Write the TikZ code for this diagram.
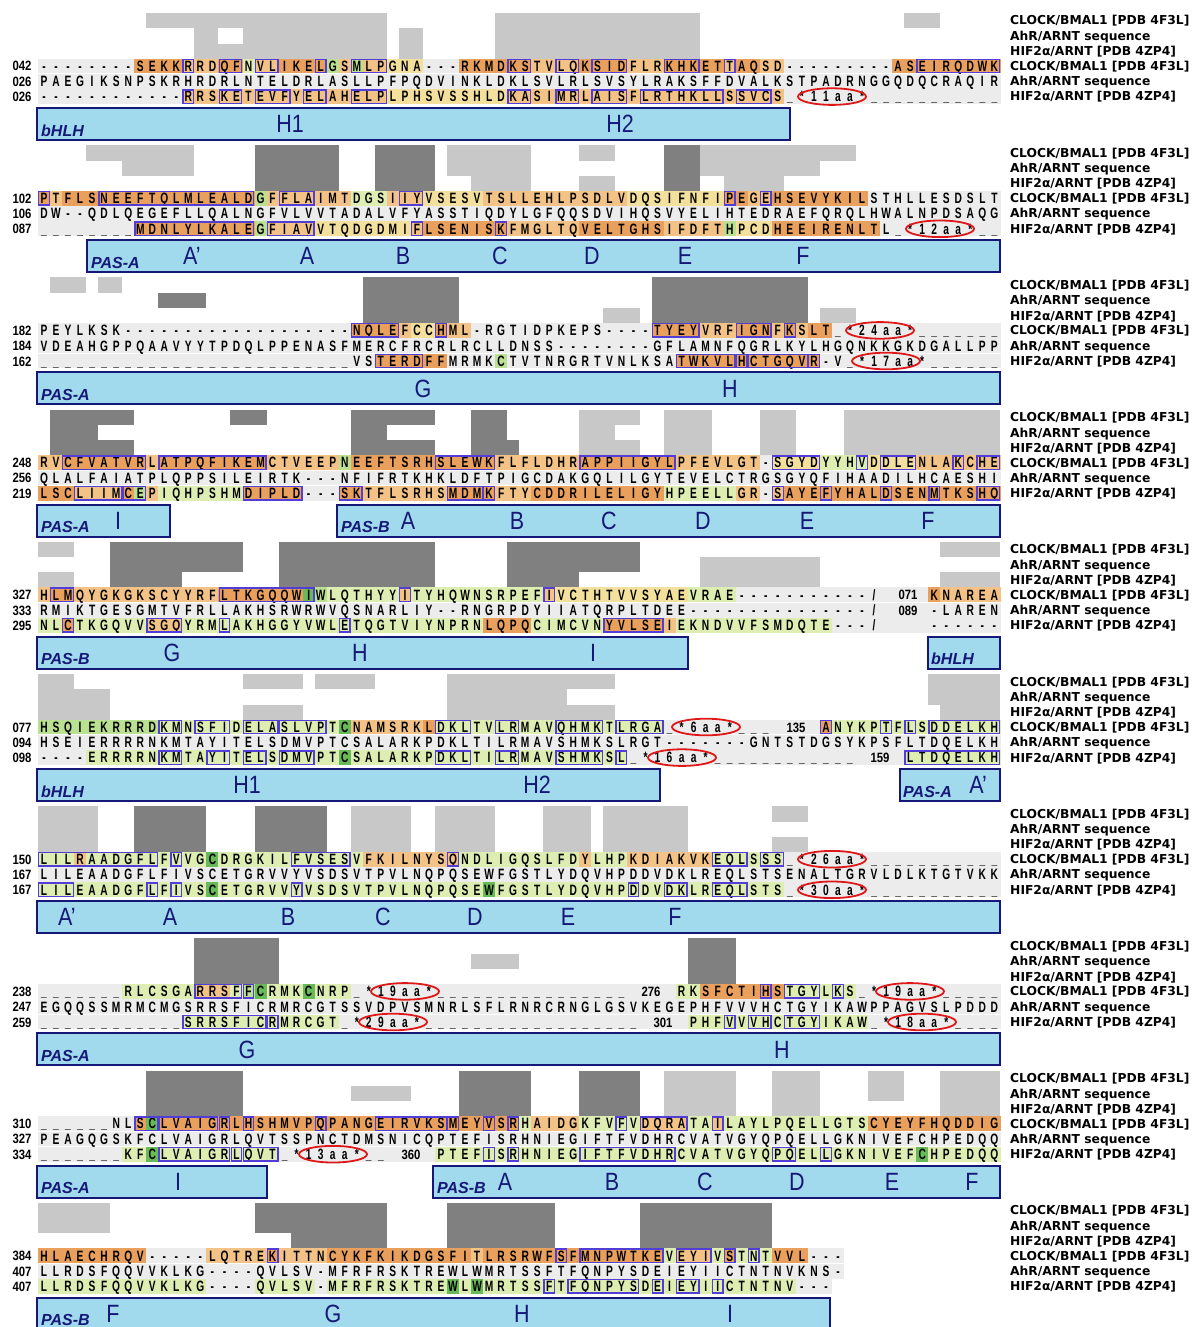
\documentclass[tikz,border=0pt]{standalone}
\usepackage{fontspec}
\usepackage{tikz}
\setmainfont{Liberation Sans}
\newfontfamily\seqfont{Liberation Sans}[FakeStretch=0.68]
\newfontfamily\numfont{Liberation Sans}[FakeStretch=0.84]
\newfontfamily\helixfont{Liberation Sans}[FakeStretch=0.86]
\newfontfamily\labfont{DejaVu Sans}

\definecolor{res0}{RGB}{236,236,236}
\definecolor{res1}{RGB}{233,160,92}
\definecolor{res2}{RGB}{242,194,134}
\definecolor{res3}{RGB}{242,224,156}
\definecolor{res4}{RGB}{222,238,178}
\definecolor{res5}{RGB}{186,224,146}
\definecolor{res6}{RGB}{104,186,88}
\definecolor{boxBlue}{RGB}{82,62,214}
\definecolor{barLight}{RGB}{200,200,200}
\definecolor{barDark}{RGB}{128,128,128}
\definecolor{domFill}{RGB}{160,218,236}
\definecolor{domLine}{RGB}{22,24,120}
\definecolor{ovalRed}{RGB}{222,24,24}

\tikzset{
  resid/.style={font=\seqfont\bfseries\fontsize{15}{15}\selectfont, anchor=base, inner sep=0pt},
  seqnum/.style={font=\numfont\bfseries\fontsize{13.5}{13.5}\selectfont, anchor=base, inner sep=0pt},
  resbox/.style={draw=boxBlue, line width=1.3pt},
  barl/.style={fill=barLight},
  bard/.style={fill=barDark},
  dombox/.style={draw=domLine, fill=domFill, line width=2pt},
  domtag/.style={font=\bfseries\itshape\fontsize{16}{16}\selectfont, text=domLine, anchor=base west, inner sep=0pt},
  helix/.style={font=\helixfont\fontsize{25}{25}\selectfont, text=domLine, inner sep=0pt},
  oval/.style={draw=ovalRed, line width=1.8pt},
  rowlab/.style={font=\labfont\bfseries\fontsize{12.3}{12.3}\selectfont, anchor=base west, inner sep=0pt}
}

% one alignment row: |n colour switch, [ ] blue box, . gap, , blank
\makeatletter
\newcount\sq@col
\def\sq@end{\sq@end}
\def\sq@loop#1{%
  \ifx#1\sq@end\let\sq@next\relax
  \else\ifx#1|\let\sq@next\sq@setc
  \else\ifx#1[\let\sq@next\sq@open
  \else\ifx#1]\let\sq@next\sq@close
  \else\def\sq@next{\sq@cell#1}%
  \fi\fi\fi\fi\sq@next}
\def\sq@setc#1{\def\sq@c{#1}\sq@loop}
\def\sq@open{\edef\sq@start{\the\sq@col}\sq@loop}
\def\sq@close{\draw[resbox] (38+\sq@start*12.03+0.7,\sq@y-6.7) rectangle (38+\the\sq@col*12.03-0.7,\sq@y+6.7);\sq@loop}
\def\sq@cell#1{%
  \fill[fill=res\sq@c] (38+\the\sq@col*12.03,\sq@y-7.4) rectangle ++(12.25,14.8);%
  \ifx#1.\def\sq@t{\_}\else\ifx#1,\def\sq@t{}\else\def\sq@t{#1}\fi\fi
  \node[resid] at (38+\the\sq@col*12.03+6.015,\sq@y+5.3) {\sq@t};%
  \advance\sq@col by 1
  \sq@loop}
\newcommand\seqline[3]{%
  \node[seqnum] at (22,#1+5) {#2};%
  \def\sq@y{#1}\sq@col=0 \def\sq@c{0}%
  \sq@loop#3\sq@end}
\makeatother

\newcommand\contacts[2]{\foreach \a/\b/\s in {#2}{\fill[bar\s] (25.97+\a*12.03,#1) rectangle (38+\b*12.03,#1+15.3);}}
\newcommand\domainbar[2]{\draw[dombox] (#1,108) rectangle (#2,140);}
\newcommand\ovalnote[2]{\draw[oval] (#1,#2) ellipse [x radius=34, y radius=8.3];}
\newcommand\sidelabels{%
  \node[rowlab] (lab1) at (1010,25) {CLOCK/BMAL1 [PDB 4F3L]};
  \node[rowlab] (lab2) at (1010,40.4) {AhR/ARNT sequence};
  \node[rowlab] (lab3) at (1010,55.6) {HIF2α/ARNT [PDB 4ZP4]};
  \node[rowlab] (lab4) at (1010,70.4) {CLOCK/BMAL1 [PDB 4F3L]};
  \node[rowlab] (lab5) at (1010,85.7) {AhR/ARNT sequence};
  \node[rowlab] (lab6) at (1010,101) {HIF2α/ARNT [PDB 4ZP4]};}

\begin{document}
\begin{tikzpicture}[x=1pt,y=1pt,yscale=-1,xscale=1]
\useasboundingbox (0,0) rectangle (1192,1327);
\fill[white] (0,0) rectangle (1192,1327);

%% block 1 : bHLH
\begin{scope}
\contacts{13}{10/29/l, 39/55/l, 73/75/l}
\contacts{28.3}{14/15/l, 18/29/l, 31/32/l, 39/55/l}
\contacts{43.6}{14/29/l, 31/32/l, 39/55/l}
\sidelabels
\seqline{66}{042}{|0--------|1SEKK[|2R]RD[|1QF]|4N[|2VL]|1IKE[L]|5G|2S[|5M|2LP]|3GNA|0---|1RKMD[KS]|2TV[LQ]|1K[SID]|2FLR[|1KHK]ET[|2T]|1AQ|2SD|0---------|1AS[EIRQDWK]}
\seqline{81.3}{026}{|0PAEGIKSNPSKRHRDRLNTELDRLASLLPFPQDVINKLDKLSVLRLSVSYLRAKSFFDVALKSTPADRNGGQDQCRAQIR}
\seqline{96.6}{026}{|0------------[|2R]RS[KE]T[EVF]Y[EL]AH[ELP]|3LPHSVSSHLD[|2KA]SI[MR]L[AIS]F[LRTHKLL]S[SVC]S|0.*11aa*...........}
\ovalnote{832}{96.6}
\domainbar{37}{790}
\node[domtag] (t1) at (41,136) {bHLH};
\node[helix] (h1a) at (290,124) {H1};
\node[helix] (h1b) at (620,124) {H2};
\end{scope}

%% block 2 : PAS-A
\begin{scope}[shift={(0,132.2)}]
\contacts{13}{5/13/l, 19/25/d, 29/33/d, 35/41/l, 46/48/l, 53/55/d, 56/68/l}
\contacts{28.3}{8/13/l, 19/25/d, 29/33/d, 35/41/l, 53/55/d, 56/65/l}
\contacts{43.6}{19/25/d, 29/33/d, 37/41/l, 46/48/l, 53/55/d, 58/62/l}
\sidelabels
\seqline{66}{102}{[|1P]|2T|1FLS[NEEFTQLMLEALD]|5G|2F[FLA]IMT|4DGS|2I[IY]|3VSESV|2TSLLEHLPSDLV|3DQSIFNFI[|1P]E|2G[E]|1HSEVYKIL|0STHLLESDSLT}
\seqline{81.3}{106}{|0DW--QDLQEGEFLLQALNGFVLVVTADALVFYASSTIQDYLGFQQSDVIHQSVYELIHTEDRAEFQRQLHWALNPDSAQG}
\seqline{96.6}{087}{|0........[|1MDNLYLKALE]|5G[|2FIAV]|3VTQDGDMI[|2F]|1LSENIS[K]|2FMGLTQ|1VELTGHS|2IFDFT|5H|3PCD|1HEEIRENLT|0L.*12aa*..}
\ovalnote{940}{96.6}
\domainbar{87}{1000}
\node[domtag] (t2) at (91,136) {PAS-A};
\node[helix] (h2a) at (192,124) {A’};
\node[helix] (h2b) at (307,124) {A};
\node[helix] (h2c) at (403,124) {B};
\node[helix] (h2d) at (500,124) {C};
\node[helix] (h2e) at (592,124) {D};
\node[helix] (h2f) at (685,124) {E};
\node[helix] (h2g) at (803,124) {F};
\end{scope}

%% block 3 : PAS-A
\begin{scope}[shift={(0,264.4)}]
\contacts{13}{2/4/l, 6/7/l, 28/35/d, 52/64/d}
\contacts{28.3}{11/14/d, 28/35/d, 52/64/d}
\contacts{43.6}{28/35/d, 48/50/l, 52/64/d, 66/68/l}
\sidelabels
\seqline{66}{182}{|0PEYLKSK-------------------[|1NQLE]|2F|3CC[|1H]|2ML|0-RGTIDPKEPS----[|1TYEY]|2VRF[|1IGN]|2F[|1K]|2S|1LT|0.*24aa*.......}
\seqline{81.3}{184}{|0VDEAHGPPQAAVYYTPDQLPPENASFMERCFRCRLRCLLDNSS--------GFLAMNFQGRLKYLHGQNKKGKDGALLPP}
\seqline{96.6}{162}{|0..........................VS[|1TERD]FF|0MRMK|5C|0TVTNRGRTVNLKSA[|1TWKVL][H][CTGQV][R]|0-V.*17aa*......}
\ovalnote{880}{66}
\ovalnote{886}{96.6}
\domainbar{37}{1000}
\node[domtag] (t3) at (41,136) {PAS-A};
\node[helix] (h3a) at (423,124) {G};
\node[helix] (h3b) at (730,124) {H};
\end{scope}

%% block 4 : PAS-A / PAS-B
\begin{scope}[shift={(0,396.6)}]
\contacts{13}{2/8/d, 17/19/d, 27/33/d, 37/39/d, 46/50/l, 53/56/l, 61/63/l, 68/80/l}
\contacts{28.3}{2/5/d, 27/29/d, 37/39/d, 46/48/l, 53/56/l, 61/63/l, 68/80/l}
\contacts{43.6}{2/8/d, 27/33/d, 37/40/d, 46/50/l, 53/56/l, 61/63/l, 68/80/l}
\sidelabels
\seqline{66}{248}{|2RV[|1CFVATVR]|2L[|1ATPQFIKEM]|2CTVEEP|5N|1EEFTSRH[SLEWK]|2FLFLDHR[|1APPIIGYL]|2PFEVLGT|0-[|3SGYD]|4YYH[V]|3D[DLE]|2NLA[K]C[HE]}
\seqline{81.3}{256}{|0QLALFAIATPLQPPSILEIRTK---NFIFRTKHKLDFTPIGCDAKGQLILGYTEVELCTRGSGYQFIHAADILHCAESHI}
\seqline{96.6}{219}{|1LSC[|2LIIM][|1C|5E]|2P|4IQHPSHM[|1DIPLD]|0---[|1SK]|2TFLSRHS[|1MDM][K]|2FTY|1CDDRILELIGY|4HPEELL|2GR|0-[|2S]|1AYE[F]YHAL[D]SEN[M]TKS[HQ]}
\domainbar{37}{170}
\domainbar{337}{1000}
\node[domtag] (t4a) at (41,136) {PAS-A};
\node[helix] (h4a) at (118,124) {I};
\node[domtag] (t4b) at (341,136) {PAS-B};
\node[helix] (h4b) at (408,124) {A};
\node[helix] (h4c) at (517,124) {B};
\node[helix] (h4d) at (609,124) {C};
\node[helix] (h4e) at (703,124) {D};
\node[helix] (h4f) at (807,124) {E};
\node[helix] (h4g) at (928,124) {F};
\end{scope}

%% block 5 : PAS-B / bHLH
\begin{scope}[shift={(0,528.8)}]
\contacts{13}{1/3/l, 7/17/d, 21/33/d, 40/50/d, 76/80/l}
\contacts{28.3}{7/17/d, 21/33/d, 40/50/d, 56/60/l, 61/65/l}
\contacts{43.6}{1/3/l, 7/12/d, 21/33/d, 40/45/d, 56/60/l, 61/65/l, 76/80/l}
\sidelabels
\seqline{66}{327}{|2H[|1LM]|2QYGKGKSCYYRF[|1LTKGQQW|6I]|5W|4LQTHYY[|2I]|4TYHQWNSRPEF[|2I]|3VCTHTVVSYAE|4VRAE|0-----------/,,,,|1K|2NAREA}
\seqline{81.3}{333}{|0RMIKTGESGMTVFRLLAKHSRWRWVQSNARLIY--RNGRPDYIIATQRPLTDEE---------------/,,,,-LAREN}
\seqline{96.6}{295}{|4NL[|1C]|4TKGQVV[|2SGQ]|4YRM[L]AKHGGYVWL[E]TQGTVIYNPRN|1LQPQ|4CIMCVN[|1YVLSE]|2I|4EKNDVVFSMDQTE|0---/,,,,------}
\node[seqnum] (n5a) at (908,71) {071};
\node[seqnum] (n5b) at (908,86.3) {089};
\domainbar{37}{688}
\domainbar{928}{1000}
\node[domtag] (t5a) at (41,136) {PAS-B};
\node[helix] (h5a) at (172,124) {G};
\node[helix] (h5b) at (360,124) {H};
\node[helix] (h5c) at (593,124) {I};
\node[domtag] (t5b) at (931,136) {bHLH};
\end{scope}

%% block 6 : bHLH / PAS-A
\begin{scope}[shift={(0,661)}]
\contacts{13}{1/3/l, 18/22/l, 24/28/l, 35/44/l, 45/48/l, 75/80/l}
\contacts{28.3}{1/6/l, 35/44/l, 75/80/l}
\contacts{43.6}{1/6/l, 18/22/l, 35/44/l, 45/48/l, 76/80/l}
\sidelabels
\seqline{66}{077}{|5HSQIEKRRRD[|4KM]N[SFI]D[ELA][SLVP]T|6C|2NAMSRK|1L[|4DKL]TV[LR]MAV[QHMK]T[LRGA]|0.*6aa*...,,,,[|1A]|4NYKP[T]F[L]S[DDELKH]}
\seqline{81.3}{094}{|0HSEIERRRRNKMTAYITELSDMVPTCSALARKPDKLTILRMAVSHMKSLRGT-------GNTSTDGSYKPSFLTDQELKH}
\seqline{96.6}{098}{|0----|4ERRRRN[KM]TA[YI]T[EL]S[DMV]PT|6C|4SALARKP[DKL]TI[LR]MAV[SHMK]S[L]|0.*16aa*............,,,,[|4LTDQELKH]}
\node[seqnum] (n6a) at (796,71) {135};
\node[seqnum] (n6b) at (880,101.6) {159};
\ovalnote{706}{66}
\ovalnote{682}{96.6}
\domainbar{37}{660}
\domainbar{900}{1000}
\node[domtag] (t6a) at (41,136) {bHLH};
\node[helix] (h6a) at (247,124) {H1};
\node[helix] (h6b) at (537,124) {H2};
\node[domtag] (t6b) at (903,136) {PAS-A};
\node[helix] (h6c) at (978,124) {A’};
\end{scope}

%% block 7 : PAS-A
\begin{scope}[shift={(0,793.2)}]
\contacts{13}{1/5/l, 9/14/d, 19/24/d, 27/31/l, 34/38/l, 43/46/l, 48/54/l, 62/64/l}
\contacts{28.3}{1/5/l, 9/14/d, 19/24/d, 27/31/l, 34/38/l, 43/46/l, 48/54/l}
\contacts{43.6}{1/5/l, 9/14/d, 19/24/d, 27/31/l, 34/38/l, 43/46/l, 48/54/l, 62/64/l}
\sidelabels
\seqline{66}{150}{|4[LIL|2R|4AADGFL]F[V]VG|6C|4DRGKIL[FVSES]V|2FKILNYS[Q]|4NDLIGQSLFD|2Y|4LHP|2KDIAKVK[|4EQL]S[SS]|0.*26aa*...........}
\seqline{81.3}{167}{|0LILEAADGFLFIVSCETGRVVYVSDSVTPVLNQPQSEWFGSTLYDQVHPDDVDKLREQLSTSENALTGRVLDLKTGTVKK}
\seqline{96.6}{167}{|4[LIL]EAADGF[L]F[I]VS|6C|4ETGRVV[Y]VSDSVTPVLNQPQSE|6W|4FGSTLYDQVHP[D]DV[DK]LR[EQL]STS|0.*30aa*...........}
\ovalnote{832}{66}
\ovalnote{832}{96.6}
\domainbar{37}{1000}
\node[helix] (h7a) at (67,124) {A’};
\node[helix] (h7b) at (170,124) {A};
\node[helix] (h7c) at (288,124) {B};
\node[helix] (h7d) at (383,124) {C};
\node[helix] (h7e) at (475,124) {D};
\node[helix] (h7f) at (568,124) {E};
\node[helix] (h7g) at (675,124) {F};
\end{scope}

%% block 8 : PAS-A
\begin{scope}[shift={(0,925.4)}]
\contacts{13}{14/20/d, 55/58/d}
\contacts{28.3}{14/20/d, 37/40/l, 55/58/d}
\contacts{43.6}{14/20/d, 55/58/d}
\sidelabels
\seqline{66}{238}{|0.......|4RLCSGA[|2RRS|4F][|5F]|6C|4RMK|6C|4NRP|0.*19aa*................,,,,|4RK|1SFCTI[H]S[|4TGY]L[K]S|0.*19aa*.....}
\seqline{81.3}{247}{|0EGQQSSMRMCMGSRRSFICRMRCGTSSVDPVSMNRLSFLRNRCRNGLGSVKEGEPHFVVVHCTGYIKAWPPAGVSLPDDD}
\seqline{96.6}{259}{|0............|4[SRRSFIC][R]MRCGT|0.*29aa*..................,,,,|4PHF[V]V[VH]C[TGY]IKAW|0.*18aa*....}
\node[seqnum] (n8a) at (651,71) {276};
\node[seqnum] (n8b) at (663,101.6) {301};
\ovalnote{405}{66}
\ovalnote{910}{66}
\ovalnote{393}{96.6}
\ovalnote{922}{96.6}
\domainbar{37}{1000}
\node[domtag] (t8) at (41,136) {PAS-A};
\node[helix] (h8a) at (247,124) {G};
\node[helix] (h8b) at (782,124) {H};
\end{scope}

%% block 9 : PAS-A / PAS-B
\begin{scope}[shift={(0,1057.6)}]
\contacts{13}{10/17/d, 36/41/d, 46/50/d, 53/58/l, 62/65/l, 70/72/l, 76/80/l}
\contacts{28.3}{10/17/d, 27/31/l, 36/41/d, 46/50/d, 53/58/l, 62/65/l, 70/72/l, 76/80/l}
\contacts{43.6}{10/17/d, 36/41/d, 46/50/d, 53/58/l, 62/65/l, 76/80/l}
\sidelabels
\seqline{66}{310}{|0......NL[|1S|6C]|1[LVAIG][R]L[H]SHMVP[Q]PANG[EIRVKS][M]EY[V]S[R]|4H|2AIDG|4KFV[F]V[|2DQRA]|4TA[|2I]|4LAYLPQELLGTS|1CYEYFHQDDIG}
\seqline{81.3}{327}{|0PEAGQGSKFCLVAIGRLQVTSSPNCTDMSNICQPTEFISRHNIEGIFTFVDHRCVATVGYQPQELLGKNIVEFCHPEDQQ}
\seqline{96.6}{334}{|0.......|4KF|6C|4[LVAIGR][L][QVT]|0.*13aa*..,,,,|4PTEF[I]S[R]HNIEG[IFTFVDHR]CVATVGYQ[PQ]EL[L]GKNIVEF|6C|4HPEDQQ}
\node[seqnum] (n9) at (411,101.6) {360};
\ovalnote{333}{96.6}
\domainbar{37}{267}
\domainbar{433}{1000}
\node[domtag] (t9a) at (41,136) {PAS-A};
\node[helix] (h9a) at (178,124) {I};
\node[domtag] (t9b) at (437,136) {PAS-B};
\node[helix] (h9b) at (505,124) {A};
\node[helix] (h9c) at (612,124) {B};
\node[helix] (h9d) at (705,124) {C};
\node[helix] (h9e) at (797,124) {D};
\node[helix] (h9f) at (892,124) {E};
\node[helix] (h9g) at (972,124) {F};
\end{scope}

%% block 10 : PAS-B
\begin{scope}[shift={(0,1189.8)}]
\contacts{13}{1/6/l, 19/29/d, 35/43/d, 51/61/d}
\contacts{28.3}{1/6/l, 19/29/d, 35/43/d, 51/61/d}
\contacts{43.6}{22/29/d, 35/43/d, 51/61/d}
\sidelabels
\seqline{66}{384}{|1HLAECHRQV|0-----|2LQTRE[|1K]|2ITTN|1CYKFKIKDGSFI|2T|1LRSRWF[S]F[MNPWTKE]|4V[|2EYI]|4V[|1S]|4T[N]T|1VVL|0---}
\seqline{81.3}{407}{|0LLRDSFQQVVKLKG----QVLSV-MFRFRSKTREWLWMRTSSFTFQNPYSDEIEYIICTNTNVKNS-}
\seqline{96.6}{407}{|4LLRDSFQQVVKLKG|0----|4QVLSV|0-|4MFRFRSKTRE|6W|4L|6W|4MRTSS[F]T[FQNPYS]D[E]I[EY]I[I]CTNTNV|0---}
\draw[dombox] (37,108) rectangle (830,150);
\node[domtag] (t10) at (41,136) {PAS-B};
\node[helix] (h10a) at (113,124) {F};
\node[helix] (h10b) at (333,124) {G};
\node[helix] (h10c) at (522,124) {H};
\node[helix] (h10d) at (730,124) {I};
\end{scope}
\end{tikzpicture}
\end{document}
